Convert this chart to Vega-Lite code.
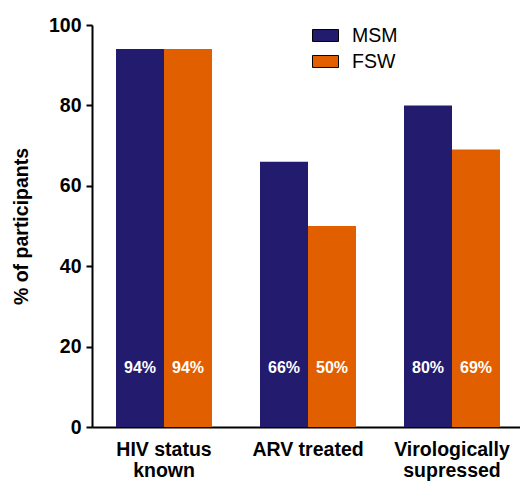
{
  "$schema": "https://vega.github.io/schema/vega-lite/v6.json",
  "autosize": "none",
  "width": 428,
  "height": 402,
  "padding": {"left": 92, "top": 25, "right": 0, "bottom": 54},
  "config": {
    "font": "Liberation Sans",
    "view": {"stroke": null}
  },
  "data": {
    "values": [
      {"category": "HIV status known", "group": "MSM", "value": 94, "label": "94%"},
      {"category": "HIV status known", "group": "FSW", "value": 94, "label": "94%"},
      {"category": "ARV treated", "group": "MSM", "value": 66, "label": "66%"},
      {"category": "ARV treated", "group": "FSW", "value": 50, "label": "50%"},
      {"category": "Virologically supressed", "group": "MSM", "value": 80, "label": "80%"},
      {"category": "Virologically supressed", "group": "FSW", "value": 69, "label": "69%"}
    ]
  },
  "encoding": {
    "x": {
      "field": "category",
      "type": "nominal",
      "sort": ["HIV status known", "ARV treated", "Virologically supressed"],
      "scale": {"paddingInner": 0.3333, "paddingOuter": 0.15278, "align": 0.5455},
      "axis": {
        "title": null,
        "labelAngle": 0,
        "ticks": false,
        "domainColor": "#000000",
        "domainWidth": 2,
        "labelFont": "Liberation Sans",
        "labelFontSize": 19.5,
        "labelFontWeight": "bold",
        "labelColor": "#000000",
        "labelPadding": 13,
        "labelLineHeight": 21,
        "labelBaseline": "top",
        "labelExpr": "datum.label == 'HIV status known' ? ['HIV status', 'known'] : datum.label == 'Virologically supressed' ? ['Virologically', 'supressed'] : datum.label"
      }
    },
    "xOffset": {
      "field": "group",
      "type": "nominal",
      "sort": ["MSM", "FSW"],
      "scale": {"paddingInner": 0, "paddingOuter": 0}
    }
  },
  "layer": [
    {
      "mark": {"type": "bar"},
      "encoding": {
        "y": {
          "field": "value",
          "type": "quantitative",
          "scale": {"domain": [0, 100], "nice": false},
          "axis": {
            "title": "% of participants",
            "values": [0, 20, 40, 60, 80, 100],
            "grid": false,
            "domainColor": "#000000",
            "domainWidth": 2,
            "tickColor": "#000000",
            "tickWidth": 2,
            "tickSize": 6,
            "labelFontSize": 19.5,
            "labelFontWeight": "bold",
            "labelColor": "#000000",
            "labelPadding": 5,
            "titleFontSize": 19.5,
            "titleFontWeight": "bold",
            "titleColor": "#000000",
            "titlePadding": 17
          }
        },
        "color": {
          "field": "group",
          "type": "nominal",
          "sort": ["MSM", "FSW"],
          "scale": {"domain": ["MSM", "FSW"], "range": ["#231b6e", "#e25f00"]},
          "legend": {
            "title": null,
            "orient": "none",
            "legendX": 220,
            "legendY": -3,
            "padding": 0,
            "symbolType": "M-1,-0.46H1V0.46H-1Z",
            "symbolSize": 676,
            "symbolStrokeColor": "#000000",
            "symbolStrokeWidth": 1,
            "symbolOpacity": 1,
            "labelFontSize": 19.5,
            "labelColor": "#000000",
            "labelOffset": 13,
            "rowPadding": 3
          }
        }
      }
    },
    {
      "mark": {"type": "text", "color": "#ffffff", "fontWeight": "bold", "fontSize": 16, "baseline": "middle"},
      "encoding": {
        "y": {"datum": 14.7},
        "text": {"field": "label"}
      }
    }
  ]
}
